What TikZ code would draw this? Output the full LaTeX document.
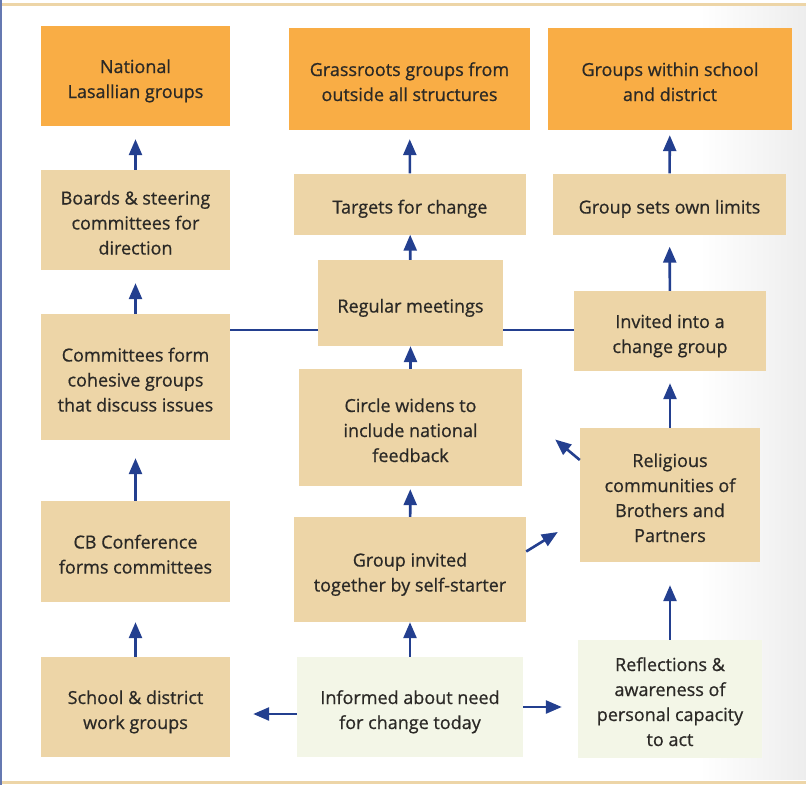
\documentclass[tikz,border=0pt]{standalone}
\usepackage{fontspec}
\setmainfont{Open Sans}
\newfontfamily\boxfont{Open Sans}[BoldFont={Open Sans},BoldFeatures={FakeBold=0.7}]
\usetikzlibrary{arrows.meta,calc}
\definecolor{tanbox}{HTML}{EDD5A7}
\definecolor{orangebox}{HTML}{F9AD45}
\definecolor{greenbox}{HTML}{F3F6E7}
\definecolor{arrowblue}{HTML}{233F8F}
\definecolor{inktext}{HTML}{2B2926}
\newcommand{\boxlines}[1]{\raisebox{-4.5pt}[\height][\depth]{\begin{tabular}{@{}c@{}}#1\end{tabular}}}

\begin{document}
\begin{tikzpicture}[x=1pt,y=-1pt,
  box/.style={fill=tanbox, inner sep=0pt, text=inktext,
    font=\boxfont\bfseries\fontsize{18}{25}\selectfont},
  goal/.style={box, fill=orangebox},
  start/.style={box, fill=greenbox},
  uparrow/.style={draw=arrowblue, line width=2.6pt, -{Triangle[width=13pt,length=16pt]}},
  joinline/.style={draw=arrowblue, line width=2.6pt}]
% frame
\useasboundingbox (0,0) rectangle (806,785);
\shade[left color=white, right color=black!7] (700,6) rectangle (806,779);
\draw[tanbox, line width=3pt] (0,4) -- (806,4);
\draw[tanbox, line width=3pt] (0,782) -- (806,782);
\draw[arrowblue!70, line width=1.5pt] (0.75,0) -- (0.75,785);
% left column
\node[goal, minimum width=189, minimum height=100] (nat) at (135.5,76) {\boxlines{National\\Lasallian groups}};
\node[box, minimum width=189, minimum height=100] (boards) at (135.5,220) {\boxlines{Boards \& steering\\committees for\\direction}};
\node[box, minimum width=189, minimum height=126] (cmte) at (135.5,377) {\boxlines{Committees form\\cohesive groups\\that discuss issues}};
\node[box, minimum width=189, minimum height=101] (cbconf) at (135.5,551.5) {\boxlines{CB Conference\\forms committees}};
\node[box, minimum width=189, minimum height=100] (school) at (135.5,707) {\boxlines{School \& district\\work groups}};
% middle column
\node[goal, minimum width=241, minimum height=102] (grass) at (409.5,79) {\boxlines{Grassroots groups from\\outside all structures}};
\node[box, minimum width=232, minimum height=61] (targets) at (410,204) {\boxlines{Targets for change}};
\node[box, minimum width=185, minimum height=86] (regular) at (410.5,303) {\boxlines{Regular meetings}};
\node[box, minimum width=223, minimum height=117] (circle) at (410.5,427.5) {\boxlines{Circle widens to\\include national\\feedback}};
\node[box, minimum width=232, minimum height=105] (invited) at (410,569.5) {\boxlines{Group invited\\together by self-starter}};
\node[start, minimum width=226, minimum height=100] (informed) at (410,707) {\boxlines{Informed about need\\for change today}};
% right column
\node[goal, minimum width=244, minimum height=102] (within) at (670,79) {\boxlines{Groups within school\\and district}};
\node[box, minimum width=233, minimum height=61] (limits) at (669.5,204) {\boxlines{Group sets own limits}};
\node[box, minimum width=192, minimum height=80] (changegrp) at (670,331) {\boxlines{Invited into a\\change group}};
\node[box, minimum width=180, minimum height=134] (relig) at (670,495) {\boxlines{Religious\\communities of\\Brothers and\\Partners}};
\node[start, minimum width=184, minimum height=118] (reflect) at (670,699) {\boxlines{Reflections \&\\awareness of\\personal capacity\\to act}};
% left arrows
\draw[uparrow, shorten >=13pt] (boards) -- (nat);
\draw[uparrow, shorten >=13pt] (cmte) -- (boards);
\draw[uparrow, shorten >=18pt] (cbconf) -- (cmte);
\draw[uparrow, shorten >=20pt] (school) -- (cbconf);
% middle arrows
\draw[uparrow, shorten >=9pt] (targets) -- (grass);
\draw[uparrow] (regular) -- (targets);
\draw[uparrow] (circle) -- (regular);
\draw[uparrow, shorten >=3pt] (invited) -- (circle);
\draw[uparrow] (informed) -- (invited);
% right arrows
\draw[uparrow, shorten >=5pt] (limits) -- (within);
\draw[uparrow, shorten >=12pt] (changegrp) -- (limits);
\draw[uparrow, shorten >=12pt] (relig) -- (changegrp);
\draw[uparrow, shorten >=23pt] (reflect) -- (relig);
% side arrows
\draw[uparrow] ($(informed.west)+(0,7)$) -- ($(school.east)+(23,7)$);
\draw[uparrow] (informed.east) -- ($(informed.east -| reflect.west)+(-16,0)$);
\draw[uparrow] ($(invited.east)+(0,-18)$) -- ($(relig.west)+(-22,37)$);
\draw[uparrow] ($(relig.west)+(0,-35)$) -- ($(circle.east)+(33,12)$);
% meeting lines
\draw[joinline] ($(regular.west)+(0,27)$) -- ($(cmte.east |- regular.west)+(0,27)$);
\draw[joinline] ($(regular.east)+(0,27)$) -- ($(changegrp.west |- regular.east)+(0,27)$);
\end{tikzpicture}
\end{document}
